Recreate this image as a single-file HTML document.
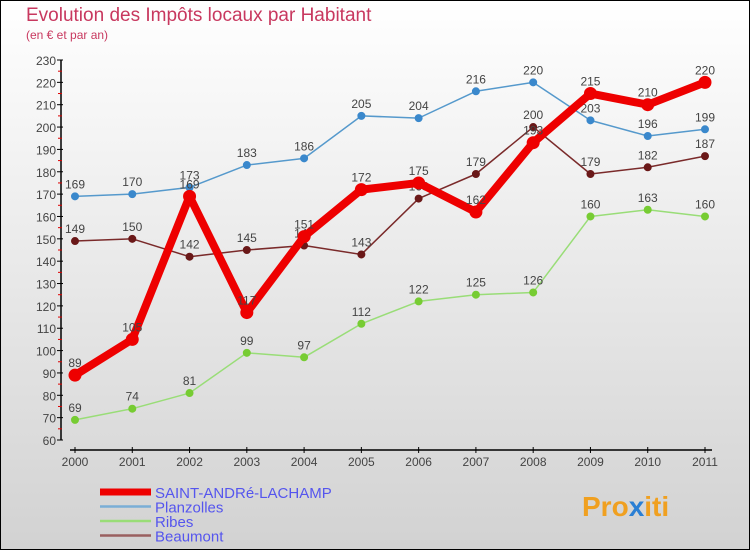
<!DOCTYPE html>
<html><head><meta charset="utf-8"><style>
body{margin:0}
#c{width:750px;height:550px;position:relative;overflow:hidden}
</style></head><body>
<div id="c">
<svg id="s" width="750" height="550" xmlns="http://www.w3.org/2000/svg" font-family="Liberation Sans, sans-serif">
<defs><linearGradient id="bg" x1="0" y1="0" x2="0" y2="1"><stop offset="0" stop-color="#ffffff"/><stop offset="1" stop-color="#d2d2d2"/></linearGradient></defs>
<rect x="0.5" y="0.5" width="749" height="549" fill="url(#bg)" stroke="#000"/>
<text x="26" y="21" font-size="19" fill="#c8385f">Evolution des Impôts locaux par Habitant</text>
<text x="26" y="39" font-size="12" fill="#c8385f">(en € et par an)</text>
<g id="axes"></g><g id="series"></g><g id="legend"></g>
<text x="582" y="516" font-size="28" font-weight="bold" fill="#f0a020">Pro<tspan fill="#2a7fd4">x</tspan>iti</text>
</svg>
</div>
<script>
const years=["2000","2001","2002","2003","2004","2005","2006","2007","2008","2009","2010","2011"];
const yTicks=[60,70,80,90,100,110,120,130,140,150,160,170,180,190,200,210,220,230];
const saint=[89,105,169,117,151,172,175,162,193,215,210,220];
const planzolles=[169,170,173,183,186,205,204,216,220,203,196,199];
const ribes=[69,74,81,99,97,112,122,125,126,160,163,160];
const beaumont=[149,150,142,145,147,143,168,179,200,179,182,187];
const NS="http://www.w3.org/2000/svg";
function X(i){return 75+i*(705-75)/11;}
function Y(v){return 440-(v-60)*(380/170);}
function mk(t,a,p){const e=document.createElementNS(NS,t);for(const k in a)e.setAttribute(k,a[k]);p.appendChild(e);return e;}
const ax=document.getElementById('axes');
let e=mk('line',{x1:61,y1:Y(230),x2:61,y2:Y(60),stroke:'#000','stroke-width':1.5},ax);


yTicks.forEach(v=>{
 mk('line',{x1:57,y1:Y(v),x2:63,y2:Y(v),stroke:'#000'},ax);
 if(v<230)mk('line',{x1:58,y1:Y(v+5),x2:62,y2:Y(v+5),stroke:'#d00'},ax);
 const t=mk('text',{x:56,y:Y(v)+5,'text-anchor':'end','font-size':12,fill:'#444'},ax);t.textContent=v;
 
 
});
e=mk('line',{x1:70,y1:450,x2:712,y2:450,stroke:'#000','stroke-width':1.5},ax);


years.forEach((y,i)=>{
 mk('line',{x1:X(i),y1:447,x2:X(i),y2:453,stroke:'#000'},ax);
 const t=mk('text',{x:X(i),y:466,'text-anchor':'middle','font-size':12,fill:'#444'},ax);t.textContent=y;
 
 
});
const S=document.getElementById('series');
function draw(d,name,col,dot,w,r,labelOff){
 const g=mk('g',{},S);
 
 
 mk('polyline',{points:d.map((v,i)=>X(i)+','+Y(v)).join(' '),fill:'none',stroke:col,'stroke-width':w,'stroke-linejoin':'round'},g);
 d.forEach((v,i)=>{
  const c=mk('circle',{cx:X(i),cy:Y(v),r:r,fill:dot,stroke:dot},g);
  
  
  const t=mk('text',{x:X(i),y:Y(v)-8,'text-anchor':'middle','font-size':12,fill:'#444'},g);t.textContent=v;
 });
}
draw(beaumont,'beaumont','#7a2a2a','#6a1818',1.5,3.5);
draw(ribes,'ribes','#99dd77','#77cc33',1.5,3.5);
draw(planzolles,'planzolles','#5599cc','#3a88cc',1.5,3.5);
draw(saint,'saint-andre-lachamp','#ee0000','#ee0000',8,6);
const L=document.getElementById('legend');
const leg=[["SAINT-ANDRé-LACHAMP","#ee0000",7],["Planzolles","#7aaed6",2.5],["Ribes","#99dd77",2.5],["Beaumont","#9a6060",2.5]];
leg.forEach((l,i)=>{
 const y=492+i*14.5;
 const g=mk('g',{},L);
 
 
 mk('line',{x1:100,y1:y,x2:151,y2:y,stroke:l[1],'stroke-width':l[2]},g);
 const t=mk('text',{x:155,y:y+6,'font-size':15,fill:'#5555ee'},g);t.textContent=l[0];
});
</script>
</body></html>
